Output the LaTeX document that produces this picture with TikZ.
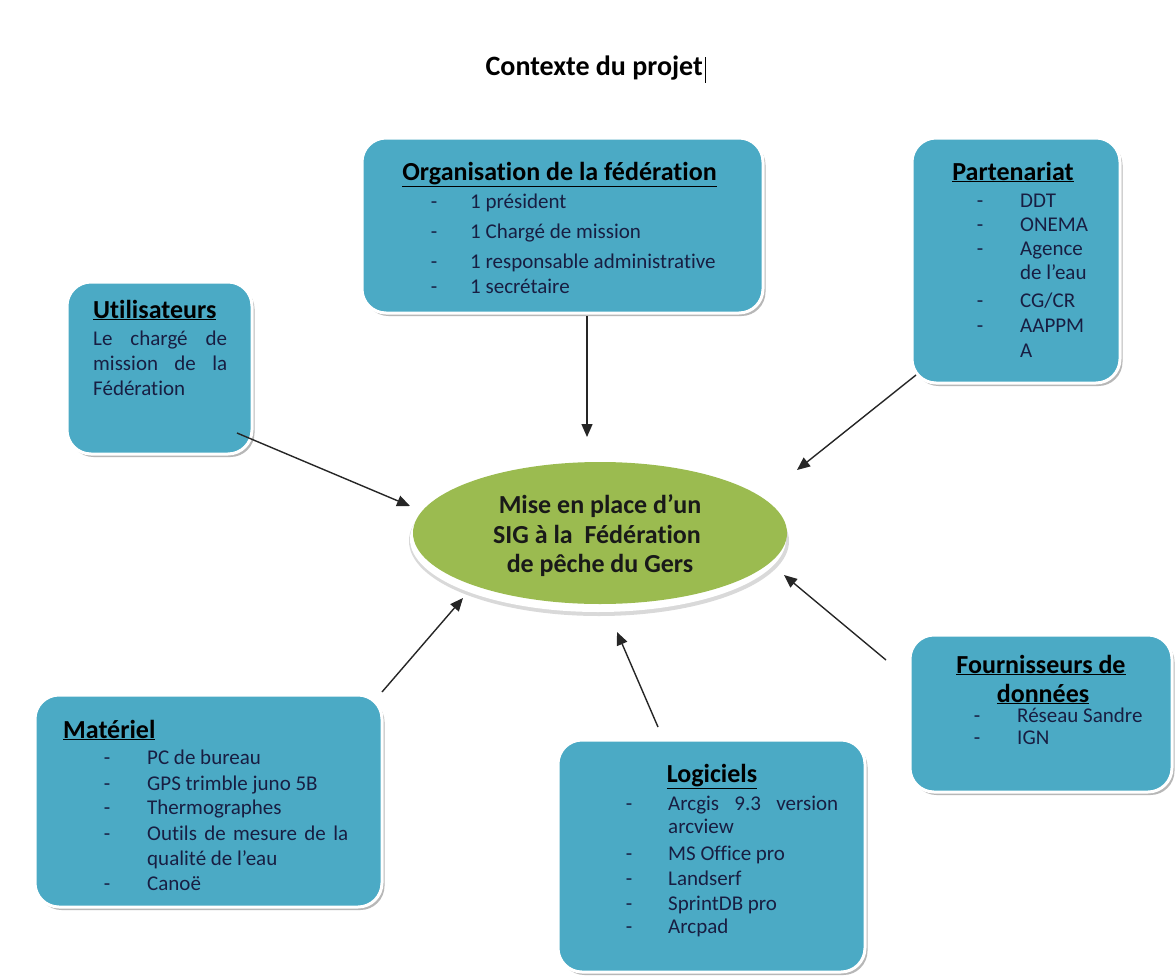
\documentclass[tikz,border=0pt]{standalone}
\usepackage{fontspec}
\setmainfont{Carlito}[Ligatures={NoCommon,NoContextual}]
\usetikzlibrary{arrows.meta,shadows,shapes.geometric}
\definecolor{boxfill}{RGB}{75,170,197}
\definecolor{goalfill}{RGB}{155,187,80}
\definecolor{inktext}{RGB}{24,30,66}

\begin{document}
\begin{tikzpicture}[x=1pt,y=-1pt,
  panel/.style={rectangle, rounded corners=24pt, fill=boxfill, draw=white,
    line width=3pt, inner sep=0pt,
    drop shadow={shadow xshift=2.5pt, shadow yshift=-3pt, opacity=0.4, fill=black!70}},
  head/.style={font=\fontsize{26}{30}\selectfont\bfseries, text=black, inner sep=0pt, anchor=base},
  headl/.style={head, anchor=base west},
  item/.style={font=\fontsize{21}{25}\selectfont, text=inktext, inner sep=0pt, anchor=base west},
  dashmark/.style={font=\fontsize{21}{25}\selectfont, text=inktext, inner sep=0pt, anchor=base},
  goaltext/.style={font=\fontsize{26}{30}\selectfont\bfseries, text=black!90, inner sep=0pt, anchor=base},
  arr/.style={-{Triangle[length=13pt,width=11pt]}, line width=1.4pt, black!85}
]
% page frame
\fill[white] (0,0) rectangle (1176,980);
\useasboundingbox (0,0) rectangle (1176,980);

% title with the text cursor after it
\node[font=\fontsize{28}{32}\selectfont\bfseries, inner sep=0pt, anchor=base east] (title) at (703,75) {Contexte du projet};
\draw[line width=1.8pt] (title.base east) ++(2.5,-18) -- ++(0,26);

% central goal: bevelled green ellipse
\fill[black!15] (599,541) ellipse [x radius=190, y radius=75];
\fill[white] (598,539) ellipse [x radius=188, y radius=73];
\node[ellipse, fill=goalfill, inner sep=0pt, minimum width=374pt, minimum height=142pt] (goal) at (600,533) {};
\node[goaltext] (goal1) at (600,513) {Mise en place d’un};
\node[goaltext] (goal2) at (597,543) {SIG à la\ \ Fédération};
\node[goaltext] (goal3) at (600,572) {de pêche du Gers};

% panels
\node[panel, minimum width=401pt, minimum height=175pt] (org) at (562.5,225.5) {};
\node[panel, minimum width=208pt, minimum height=245pt] (part) at (1016,260.5) {};
\node[panel, minimum width=185pt, minimum height=172pt] (util) at (159.5,368) {};
\node[panel, minimum width=262pt, minimum height=157pt] (four) at (1041,713.5) {};
\node[panel, minimum width=347pt, minimum height=212pt] (mat) at (208.5,801) {};
\node[panel, minimum width=307pt, minimum height=232pt] (logi) at (711.5,856) {};

% Organisation de la fédération
\node[head] (orgh) at (559.5,180) {\underline{Organisation de la fédération}};
\foreach \y/\t [count=\i] in {208/1 président, 238/1 Chargé de mission, 268/1 responsable administrative, 293/1 secrétaire} {
  \node[dashmark] (orgd\i) at (434,\y) {-};
  \node[item] (orgi\i) at (470,\y) {\t};
}

% Partenariat
\node[head] (parth) at (1013,180) {\underline{Partenariat}};
\foreach \y/\t [count=\i] in {207/DDT, 231/ONEMA, 255/Agence, 307/{CG/CR}, 332/AAPPM} {
  \node[dashmark] (partd\i) at (980,\y) {-};
  \node[item] (parti\i) at (1020,\y) {\t};
}
\node[item] (partc1) at (1020,279) {de l’eau};
\node[item] (partc2) at (1020,357) {A};

% Utilisateurs
\node[headl] (utilh) at (93,318) {\underline{Utilisateurs}};
\node[item] (util1) at (93,345) {\makebox[134pt][s]{Le chargé de}};
\node[item] (util2) at (93,370) {\makebox[134pt][s]{mission de la}};
\node[item] (util3) at (93,395) {Fédération};

% Matériel
\node[headl] (math) at (63,738) {\underline{Matériel}};
\foreach \y/\t [count=\i] in {764/PC de bureau, 790/GPS trimble juno 5B, 814/Thermographes, 840/{\makebox[201pt][s]{Outils de mesure de la}}, 890/Canoë} {
  \node[dashmark] (matd\i) at (107,\y) {-};
  \node[item] (mati\i) at (147,\y) {\t};
}
\node[item] (matc1) at (147,865) {qualité de l’eau};

% Logiciels
\node[head] (logih) at (712,782) {\underline{Logiciels}};
\foreach \y/\t [count=\i] in {810/{\makebox[170pt][s]{Arcgis 9.3 version}}, 860/MS Office pro, 885/Landserf, 910/SprintDB pro, 933/Arcpad} {
  \node[dashmark] (logid\i) at (629,\y) {-};
  \node[item] (logii\i) at (668,\y) {\t};
}
\node[item] (logic1) at (668,833) {arcview};

% Fournisseurs de données
\node[head] (fourh1) at (1041,673) {\underline{Fournisseurs de}};
\node[head] (fourh2) at (1043,702) {\underline{données}};
\foreach \y/\t [count=\i] in {722/Réseau Sandre, 744/IGN} {
  \node[dashmark] (fourd\i) at (977,\y) {-};
  \node[item] (fouri\i) at (1017,\y) {\t};
}

% connector ends
\coordinate (org-out)  at (587,316);
\coordinate (goal-n)   at (587,437);
\coordinate (part-out) at (916,375);
\coordinate (goal-ne)  at (797,470);
\coordinate (util-out) at (237,433);
\coordinate (goal-w)   at (410,506);
\coordinate (mat-out)  at (382,692);
\coordinate (goal-sw)  at (463,598);
\coordinate (logi-out) at (658,727);
\coordinate (goal-s)   at (617,632);
\coordinate (four-out) at (886,660);
\coordinate (goal-se)  at (784,575);

% arrows into the goal
\draw[arr] (org-out)  -- (goal-n);
\draw[arr] (part-out) -- (goal-ne);
\draw[arr] (util-out) -- (goal-w);
\draw[arr] (mat-out)  -- (goal-sw);
\draw[arr] (logi-out) -- (goal-s);
\draw[arr] (four-out) -- (goal-se);
\end{tikzpicture}
\end{document}
